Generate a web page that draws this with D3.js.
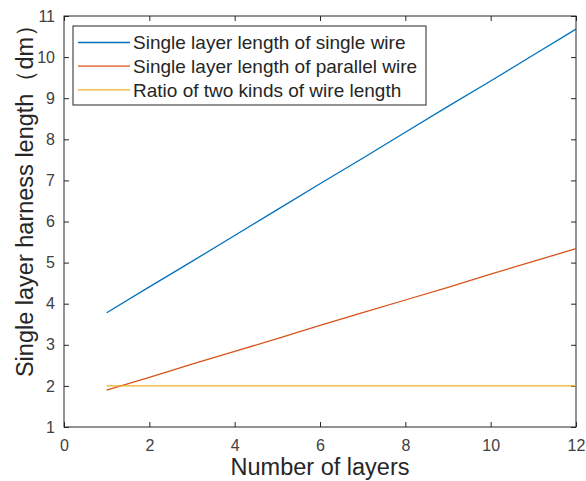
<!DOCTYPE html>
<html>
<head>
<meta charset="utf-8">
<script src="https://cdn.jsdelivr.net/npm/d3@7"></script>
<style>
  body { margin: 0; background: #fff; }
  text { font-family: "Liberation Sans", Arial, sans-serif; }
</style>
</head>
<body>
<div id="chart"></div>
<script>
// data
var layers = [1, 2, 3, 4, 5, 6, 7, 8, 9, 10, 11, 12];
var singleWire = [3.78, 4.41, 5.03, 5.66, 6.29, 6.92, 7.54, 8.17, 8.80, 9.42, 10.05, 10.68];
var parallelWire = [1.90, 2.21, 2.53, 2.84, 3.15, 3.47, 3.78, 4.09, 4.40, 4.72, 5.03, 5.34];
var ratio = [2, 2, 2, 2, 2, 2, 2, 2, 2, 2, 2, 2];
var xTicks = [0, 2, 4, 6, 8, 10, 12];
var yTicks = [1, 2, 3, 4, 5, 6, 7, 8, 9, 10, 11];

var seriesNames = ["Single layer length of single wire", "Single layer length of parallel wire", "Ratio of two kinds of wire length"];
var seriesColors = ["#0072BD", "#D95319", "#EDB120"];
var seriesData = [singleWire, parallelWire, ratio];

var width = 586, height = 481;
var margin = {left: 64, right: 10, top: 16, bottom: 54};
var axisColor = "#262626";

var svg = d3.select("#chart").append("svg")
    .attr("width", width)
    .attr("height", height);

var x = d3.scaleLinear().domain([0, 12]).range([margin.left, width - margin.right]);
var y = d3.scaleLinear().domain([1, 11]).range([height - margin.bottom, margin.top]);

// box around the axes
svg.append("rect")
    .attr("x", x(0))
    .attr("y", y(11))
    .attr("width", x(12) - x(0))
    .attr("height", y(1) - y(11))
    .attr("fill", "none")
    .attr("stroke", axisColor)
    .attr("stroke-width", 1);

// inner ticks like matlab
var tickLen = 5;
function styleAxis(g) {
  g.select(".domain").remove();
  g.selectAll(".tick line").attr("stroke", axisColor);
  g.selectAll(".tick text").attr("fill", "#404040").style("font-size", "16px");
}

svg.append("g")
    .attr("transform", "translate(0," + y(1) + ")")
    .call(d3.axisBottom(x).tickValues(xTicks).tickSizeInner(-tickLen).tickSizeOuter(0).tickPadding(13))
    .call(styleAxis);

svg.append("g")
    .attr("transform", "translate(0," + y(11) + ")")
    .call(d3.axisTop(x).tickValues(xTicks).tickSizeInner(-tickLen).tickSizeOuter(0).tickFormat(""))
    .call(styleAxis);

svg.append("g")
    .attr("transform", "translate(" + x(0) + ",0)")
    .call(d3.axisLeft(y).tickValues(yTicks).tickSizeInner(-tickLen).tickSizeOuter(0).tickPadding(9))
    .call(styleAxis);

svg.append("g")
    .attr("transform", "translate(" + x(12) + ",0)")
    .call(d3.axisRight(y).tickValues(yTicks).tickSizeInner(-tickLen).tickSizeOuter(0).tickFormat(""))
    .call(styleAxis);

// series lines
var line = d3.line()
    .x(function(d, i) { return x(layers[i]); })
    .y(function(d) { return y(d); });

seriesData.forEach(function(s, i) {
  svg.append("path")
      .datum(s)
      .attr("d", line)
      .attr("fill", "none")
      .attr("stroke", seriesColors[i])
      .attr("stroke-width", 1.3);
});

// axis labels
svg.append("text")
    .attr("x", (x(0) + x(12)) / 2)
    .attr("y", 475)
    .attr("text-anchor", "middle")
    .attr("fill", axisColor)
    .style("font-size", "23.5px")
    .text("Number of layers");

svg.append("text")
    .attr("transform", "translate(33,195) rotate(-90)")
    .attr("text-anchor", "middle")
    .attr("fill", axisColor)
    .style("font-size", "23.5px")
    .text("Single layer harness length（dm）");

// legend
var leg = svg.append("g").attr("transform", "translate(73,26)");
leg.append("rect")
    .attr("width", 353)
    .attr("height", 79)
    .attr("fill", "#fff")
    .attr("stroke", axisColor)
    .attr("stroke-width", 1);

seriesNames.forEach(function(name, i) {
  var row = leg.append("g").attr("transform", "translate(0," + (16.5 + i * 23.7) + ")");
  row.append("line")
      .attr("x1", 5).attr("x2", 57)
      .attr("stroke", seriesColors[i])
      .attr("stroke-width", 1.3);
  row.append("text")
      .attr("x", 60)
      .attr("dy", "0.35em")
      .attr("fill", axisColor)
      .style("font-size", "19px")
      .text(name);
});
</script>
</body>
</html>
